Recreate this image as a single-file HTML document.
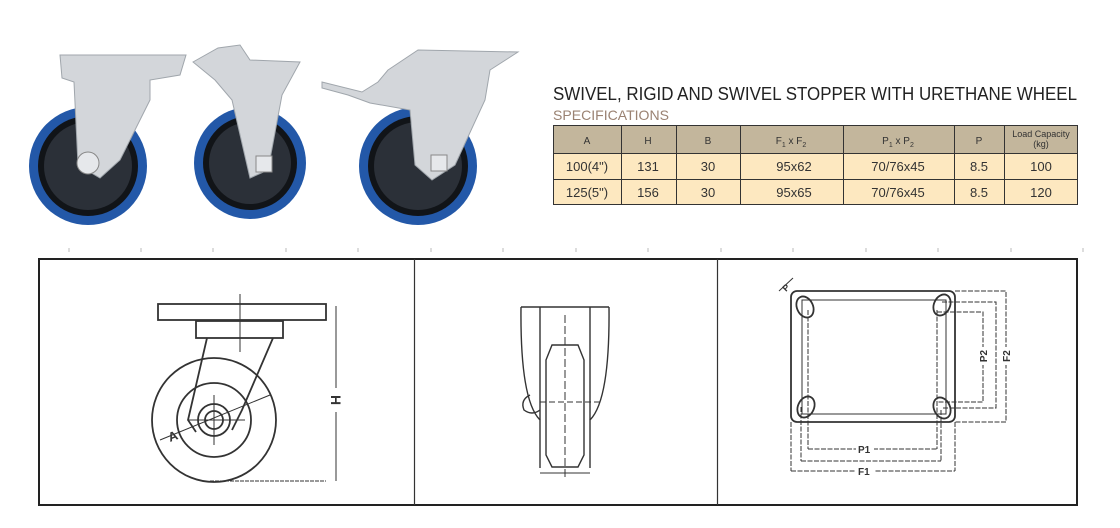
<!DOCTYPE html>
<html><head><meta charset="utf-8"><style>
body{margin:0;background:#fff;}
svg{display:block;font-family:"Liberation Sans",sans-serif;}
</style></head><body>
<svg width="1120" height="528" viewBox="0 0 1120 528" xmlns="http://www.w3.org/2000/svg">
<!-- photos -->
<g>
 <circle cx="88" cy="166" r="59" fill="#2358a8"/>
 <circle cx="88" cy="166" r="50" fill="#111418"/>
 <circle cx="88" cy="166" r="44" fill="#2b3038"/>
 <polygon points="60,55 186,55 180,75 150,80 150,100 120,160 100,178 78,165 74,82 62,78" fill="#d3d6da" stroke="#a0a6ac"/>
 <circle cx="88" cy="163" r="11" fill="#e6e8eb" stroke="#888"/>
 <circle cx="250" cy="163" r="56" fill="#2358a8"/>
 <circle cx="250" cy="163" r="47" fill="#111418"/>
 <circle cx="250" cy="163" r="41" fill="#2b3038"/>
 <polygon points="193,62 218,48 240,45 250,60 300,62 282,95 268,170 250,178 232,100 215,80" fill="#d3d6da" stroke="#a0a6ac"/>
 <rect x="256" y="156" width="16" height="16" fill="#e6e8eb" stroke="#888"/>
 <circle cx="418" cy="166" r="59" fill="#2358a8"/>
 <circle cx="418" cy="166" r="50" fill="#111418"/>
 <circle cx="418" cy="166" r="44" fill="#2b3038"/>
 <polygon points="388,70 418,50 518,52 490,70 485,100 455,165 432,180 415,165 410,110 370,103 348,95 322,88 322,82 362,92 378,82" fill="#d3d6da" stroke="#a0a6ac"/>
 <rect x="431" y="155" width="16" height="16" fill="#e6e8eb" stroke="#888"/>
</g>
<!-- titles -->
<text x="553" y="100" font-size="18" fill="#222" textLength="524" lengthAdjust="spacingAndGlyphs">SWIVEL, RIGID AND SWIVEL STOPPER WITH URETHANE WHEEL</text>
<text x="553" y="120" font-size="14" fill="#9a8272" textLength="116" lengthAdjust="spacingAndGlyphs">SPECIFICATIONS</text>
<!-- table -->
<rect x="553" y="125" width="525" height="28" fill="#c3b69c"/>
<rect x="553" y="153" width="525" height="52" fill="#fde8c0"/>
<g stroke="#333" stroke-width="1" fill="none">
 <rect x="553.5" y="125.5" width="524" height="79"/>
 <line x1="553" y1="153.5" x2="1078" y2="153.5"/>
 <line x1="553" y1="179.5" x2="1078" y2="179.5"/>
 <line x1="621.5" y1="125" x2="621.5" y2="205"/>
 <line x1="676.5" y1="125" x2="676.5" y2="205"/>
 <line x1="740.5" y1="125" x2="740.5" y2="205"/>
 <line x1="843.5" y1="125" x2="843.5" y2="205"/>
 <line x1="954.5" y1="125" x2="954.5" y2="205"/>
 <line x1="1004.5" y1="125" x2="1004.5" y2="205"/>
</g>
<g font-size="10" fill="#333" text-anchor="middle">
 <text x="587" y="144">A</text><text x="648" y="144">H</text><text x="708" y="144">B</text>
 <text x="791" y="144">F<tspan font-size="7" dy="3">1</tspan><tspan dy="-3"> x F</tspan><tspan font-size="7" dy="3">2</tspan></text>
 <text x="898" y="144">P<tspan font-size="7" dy="3">1</tspan><tspan dy="-3"> x P</tspan><tspan font-size="7" dy="3">2</tspan></text>
 <text x="979" y="144">P</text>
 <text x="1041" y="137" font-size="9">Load Capacity</text><text x="1041" y="147" font-size="9">(kg)</text>
</g>
<g font-size="13" fill="#333" text-anchor="middle">
 <text x="587" y="171">100(4")</text><text x="648" y="171">131</text><text x="708" y="171">30</text><text x="794" y="171">95x62</text><text x="898" y="171">70/76x45</text><text x="979" y="171">8.5</text><text x="1041" y="171">100</text>
 <text x="587" y="197">125(5")</text><text x="648" y="197">156</text><text x="708" y="197">30</text><text x="794" y="197">95x65</text><text x="898" y="197">70/76x45</text><text x="979" y="197">8.5</text><text x="1041" y="197">120</text>
</g>
<g stroke="#bbb">
 <line x1="69" y1="248" x2="69" y2="252"/><line x1="141" y1="248" x2="141" y2="252"/><line x1="213" y1="248" x2="213" y2="252"/><line x1="286" y1="248" x2="286" y2="252"/><line x1="358" y1="248" x2="358" y2="252"/><line x1="431" y1="248" x2="431" y2="252"/><line x1="503" y1="248" x2="503" y2="252"/><line x1="576" y1="248" x2="576" y2="252"/><line x1="648" y1="248" x2="648" y2="252"/><line x1="721" y1="248" x2="721" y2="252"/><line x1="793" y1="248" x2="793" y2="252"/><line x1="866" y1="248" x2="866" y2="252"/><line x1="938" y1="248" x2="938" y2="252"/><line x1="1011" y1="248" x2="1011" y2="252"/><line x1="1083" y1="248" x2="1083" y2="252"/>
</g>
<rect x="39" y="259" width="1038" height="246" fill="none" stroke="#222" stroke-width="2"/>
<line x1="414.5" y1="259" x2="414.5" y2="505" stroke="#333" stroke-width="1.2"/>
<line x1="717.5" y1="259" x2="717.5" y2="505" stroke="#333" stroke-width="1.2"/>
<!-- left drawing -->
<g stroke="#333" stroke-width="1.8" fill="none">
 <circle cx="214" cy="420" r="62"/>
 <circle cx="214" cy="420" r="37"/>
 <circle cx="214" cy="420" r="16"/>
 <circle cx="214" cy="420" r="9"/>
 <rect x="158" y="304" width="168" height="16"/>
 <rect x="196" y="321" width="87" height="17"/>
 <polyline points="207,338 188,420 196,432"/>
 <polyline points="273,338 242,410 232,430"/>
 <line x1="240" y1="294" x2="240" y2="352" stroke-width="1"/>
 <line x1="188" y1="420" x2="245" y2="420" stroke-width="1"/>
 <line x1="214" y1="395" x2="214" y2="445" stroke-width="1"/>
 <line x1="160" y1="440" x2="270" y2="395" stroke-width="1"/>
 <line x1="210" y1="481" x2="326" y2="481" stroke-width="1" stroke-dasharray="4,1"/>
 <line x1="336" y1="306" x2="336" y2="388" stroke-width="1"/>
 <line x1="336" y1="412" x2="336" y2="481" stroke-width="1"/>
</g>
<text x="0" y="0" font-size="14" font-weight="bold" fill="#333" transform="translate(331,400) rotate(90)" text-anchor="middle">H</text>
<text x="0" y="0" font-size="13" font-weight="bold" fill="#333" transform="translate(170,442) rotate(-20)">A</text>
<!-- middle drawing -->
<g stroke="#333" stroke-width="1.4" fill="none">
 <line x1="521" y1="307" x2="609" y2="307"/>
 <path d="M521,307 Q520,400 540,420 L540,468"/>
 <path d="M609,307 Q610,400 590,420 L590,468"/>
 <line x1="540" y1="307" x2="540" y2="420"/>
 <line x1="590" y1="307" x2="590" y2="420"/>
 <path d="M552,345 L578,345 L584,360 L584,455 L578,467 L552,467 L546,455 L546,360 Z"/>
 <line x1="565" y1="315" x2="565" y2="480" stroke-width="1" stroke-dasharray="8,3"/>
 <line x1="540" y1="402" x2="600" y2="402" stroke-width="1" stroke-dasharray="6,3"/>
 <path d="M530,395 q-10,5 -6,15 q8,6 16,0"/>
 <line x1="540" y1="473" x2="590" y2="473" stroke-width="1"/>
</g>
<!-- right drawing -->
<g stroke="#333" stroke-width="1.8" fill="none">
 <rect x="791" y="291" width="164" height="131" rx="6"/>
 <rect x="802" y="300" width="144" height="114" stroke-width="1"/>
 <ellipse cx="805" cy="307" rx="8" ry="11" transform="rotate(-25 805 307)"/>
 <ellipse cx="942" cy="305" rx="8" ry="11" transform="rotate(25 942 305)"/>
 <ellipse cx="806" cy="407" rx="8" ry="11" transform="rotate(25 806 407)"/>
 <ellipse cx="942" cy="408" rx="8" ry="11" transform="rotate(-25 942 408)"/>
</g>
<g stroke="#333" stroke-width="1" fill="none" stroke-dasharray="5,1.5">
 <line x1="808" y1="310" x2="808" y2="449"/><line x1="937" y1="310" x2="937" y2="449"/>
 <line x1="808" y1="449" x2="937" y2="449"/>
 <line x1="801" y1="407" x2="801" y2="461"/><line x1="941" y1="410" x2="941" y2="461"/>
 <line x1="801" y1="461" x2="941" y2="461"/>
 <line x1="791" y1="422" x2="791" y2="471"/><line x1="955" y1="422" x2="955" y2="471"/>
 <line x1="791" y1="471" x2="955" y2="471"/>
 <polyline points="937,312 983,312 983,402 937,402"/>
 <polyline points="942,302 996,302 996,408 942,408"/>
 <polyline points="955,291 1006,291 1006,422 955,422"/>
 <line x1="779" y1="291" x2="793" y2="278" stroke-dasharray="none"/>
</g>
<g font-size="10" font-weight="bold" fill="#333">
 <rect x="856" y="443" width="18" height="11" fill="#fff"/>
 <text x="858" y="453">P1</text>
 <rect x="856" y="465" width="18" height="11" fill="#fff"/>
 <text x="858" y="475">F1</text>
 <rect x="977" y="347" width="12" height="18" fill="#fff"/>
 <text transform="translate(979,356) rotate(-90)" text-anchor="middle" dy="8">P2</text>
 <rect x="1000" y="347" width="12" height="18" fill="#fff"/>
 <text transform="translate(1002,356) rotate(-90)" text-anchor="middle" dy="8">F2</text>
 <text transform="translate(786,292) rotate(-45)" font-size="9">P</text>
</g>
</svg>
</body></html>
